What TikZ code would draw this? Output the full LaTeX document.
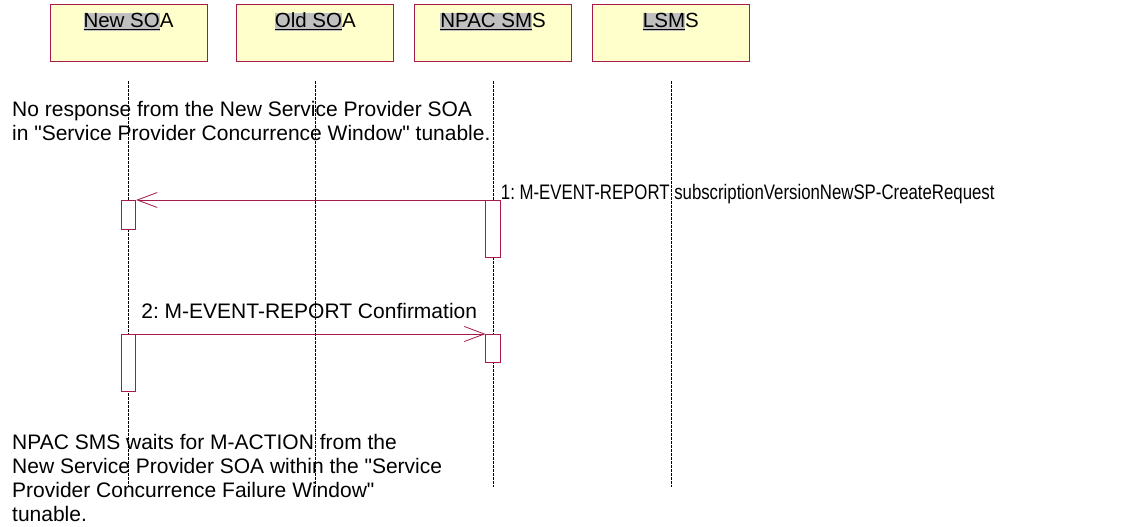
\documentclass[tikz,border=0pt]{standalone}
\usepackage{fontspec}
\setmainfont{Liberation Sans}
\newfontfamily\narrowfont[FakeStretch=0.8]{Liberation Sans}
\usetikzlibrary{arrows.meta, positioning}
\definecolor{umlred}{RGB}{170,25,75}
\definecolor{umlyellow}{RGB}{255,255,204}
\definecolor{selgray}{RGB}{192,192,192}
\newcommand\selpart[1]{{\setlength\fboxsep{0pt}\colorbox{selgray}{\rule[-3.5pt]{0pt}{18.5pt}\underline{#1}}}}
\frenchspacing
\tikzset{
  actor/.style = {
    rectangle, draw=umlred, fill=umlyellow, line width=0.8pt,
    minimum width=157pt, minimum height=57pt, inner sep=0pt
  },
  actorlabel/.style = {inner sep=0pt, font=\fontsize{20.5}{24}\selectfont},
  lifeline/.style = {draw=black, line width=0.5pt, dash pattern=on 2.5pt off 1.5pt},
  act/.style = {
    rectangle, draw=umlred, fill=white, line width=0.8pt,
    minimum width=14.5pt, inner sep=0pt, anchor=north
  },
  msg/.style = {umlred, line width=0.8pt,
    -{Straight Barb[length=20pt, width=15pt, line width=0.8pt]}},
  msglabel/.style = {inner sep=0pt, anchor=base west, font=\fontsize{21}{24}\selectfont},
  note/.style = {inner sep=0pt, anchor=north west, align=left,
    font=\fontsize{21}{24}\selectfont}
}
\begin{document}
\begin{tikzpicture}[x=1pt, y=-1pt]
\useasboundingbox (0,0) rectangle (1137,527);

%% actors
\node[actor] (nsoa) at (128.5,32.5) {};
\node[actor, right=29pt of nsoa] (osoa) {};
\node[actor, right=20pt of osoa] (npac) {};
\node[actor, right=20pt of npac] (lsms) {};

\node[actorlabel, anchor=base] (nsoat) at ([yshift=-24pt]nsoa.north) {\selpart{New SO}A};
\node[actorlabel, anchor=base] (osoat) at ([yshift=-24pt]osoa.north) {\selpart{Old SO}A};
\node[actorlabel, anchor=base] (npact) at ([yshift=-24pt]npac.north) {\selpart{NPAC SM}S};
\node[actorlabel, anchor=base] (lsmst) at ([yshift=-24pt]lsms.north) {\selpart{LSM}S};

%% lifelines
\foreach \a in {nsoa, osoa, npac, lsms}
  \draw[lifeline] ([yshift=-20pt]\a.south) -- ([yshift=-426pt]\a.south);

%% notes
\node[note] (note1) at (12,101)
  {No response from the New Service Provider SOA\\
   in \textquotedbl Service Provider Concurrence Window\textquotedbl{} tunable.};
\node[note] (note2) at (12,434)
  {NPAC SMS waits for M-ACTION from the\\
   New Service Provider SOA within the \textquotedbl Service\\
   Provider Concurrence Failure Window\textquotedbl\\
   tunable.};

%% message rows
\coordinate (r1) at (0,200);
\coordinate (r2) at (0,334);

%% activations
\node[act, minimum height=29pt] (nsoa1) at (nsoa |- r1) {};
\node[act, minimum height=57pt] (npac1) at (npac |- r1) {};
\node[act, minimum height=57pt] (nsoa2) at (nsoa |- r2) {};
\node[act, minimum height=28pt] (npac2) at (npac |- r2) {};

%% messages
\draw[msg] (npac1.north west) -- (nsoa1.north east);
\node[msglabel] (m1) at ([yshift=1pt]npac1.north east)
  {\narrowfont 1: M-EVENT-REPORT subscriptionVersionNewSP-CreateRequest};

\draw[msg] (nsoa2.north east) -- (npac2.north west);
\node[msglabel] (m2) at ([xshift=5pt, yshift=16pt]nsoa2.north east)
  {2: M-EVENT-REPORT Confirmation};

\end{tikzpicture}
\end{document}
